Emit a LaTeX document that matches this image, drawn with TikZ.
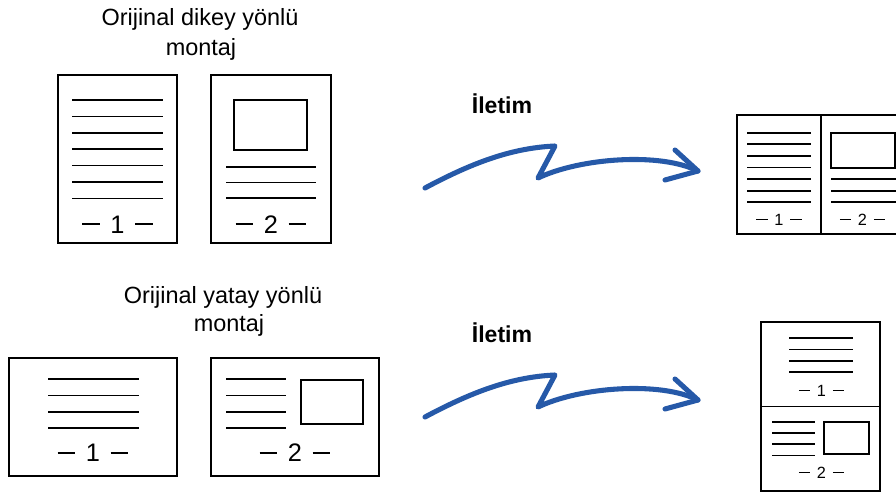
\documentclass[tikz,border=0pt]{standalone}
\usepackage{fontspec}
\setmainfont{Liberation Sans}
\usepackage{tikz}
\usetikzlibrary{arrows.meta, positioning}
\definecolor{sendblue}{RGB}{38, 89, 168}
\newcommand{\pgdash}{\rule[0.31em]{0.7em}{0.075em}}
\newcommand{\pagenum}[1]{\pgdash\hspace{0.42em}#1\hspace{0.42em}\pgdash}

\begin{document}
\begin{tikzpicture}[x=0.75pt, y=-0.75pt,
  sheet/.style={draw, line width=1.5pt},
  textline/.style={line width=1.3pt},
  divider/.style={line width=0.8pt},
  caption/.style={font=\fontsize{17.6}{21}\selectfont, anchor=base, inner sep=0pt},
  bignum/.style={font=\fontsize{19}{22}\selectfont, anchor=base, inner sep=0pt},
  smallnum/.style={font=\fontsize{12.2}{14}\selectfont, anchor=base, inner sep=0pt},
  sendlabel/.style={font=\bfseries\fontsize{17.3}{21}\selectfont, anchor=base, inner sep=0pt},
  sendarrow/.style={sendblue, line width=3.8pt, line cap=round, line join=round}]

  \clip (0,0) rectangle (896,493);

  % --- portrait originals ---
  \node[caption] (ptitle) at (200,25) {Orijinal dikey yönlü};
  \node[caption] (ptitleb) at (201,55) {montaj};

  \draw[sheet] (58,75) rectangle (177,243);
  \foreach \i in {0,...,6}
    \draw[textline] (72,{100+16.4*\i}) -- (163,{100+16.4*\i});
  \node[bignum] (pone) at (117.5,233) {\pagenum{1}};

  \draw[sheet] (211,75) rectangle (331,243);
  \draw[textline] (234,100) rectangle (307,150);
  \foreach \i in {0,1,2}
    \draw[textline] (226,{166.7+15.8*\i}) -- (316,{166.7+15.8*\i});
  \node[bignum] (ptwo) at (271,233) {\pagenum{2}};

  % --- landscape originals ---
  \node[caption] (ltitle) at (223,303.3) {Orijinal yatay yönlü};
  \node[caption] (ltitleb) at (229,331.7) {montaj};

  \draw[sheet] (9,358.3) rectangle (177,476);
  \foreach \i in {0,...,3}
    \draw[textline] (48,{379.3+16.2*\i}) -- (139,{379.3+16.2*\i});
  \node[bignum] (lone) at (93,461.7) {\pagenum{1}};

  \draw[sheet] (211,358.3) rectangle (379,476);
  \foreach \i in {0,...,3}
    \draw[textline] (226,{379.3+16.2*\i}) -- (286,{379.3+16.2*\i});
  \draw[textline] (301,380) rectangle (363,424.3);
  \node[bignum] (ltwo) at (295,461.7) {\pagenum{2}};

  % --- transfer arrows ---
  \foreach \row/\dy in {top/0, bottom/229} {
    \begin{scope}[shift={(0,\dy)}]
      \node[sendlabel] (\row-label) at (502,113.5) {İletim};
      \coordinate (\row-start) at (425,188);
      \coordinate (\row-peak) at (555,146);
      \coordinate (\row-dip) at (538,178);
      \coordinate (\row-tip) at (698,171);
      \draw[sendarrow] (\row-start) .. controls (470,164) and (510,148) .. (\row-peak)
        -- (\row-dip) .. controls (580,158) and (660,152) .. (\row-tip);
      \draw[sendarrow] (675,150) -- (\row-tip) -- (665,180);
    \end{scope}
  }

  % --- received: side by side ---
  \draw[sheet] (737,115) rectangle (904,234);
  \draw[divider] (821,115) -- (821,234);
  \foreach \i in {0,...,6}
    \draw[textline] (747,{132.7+11.6*\i}) -- (811,{132.7+11.6*\i});
  \draw[textline] (831,132.7) rectangle (895,168.3);
  \foreach \i in {0,1,2}
    \draw[textline] (831,{179.3+11.5*\i}) -- (900,{179.3+11.5*\i});
  \node[smallnum] (rone) at (779,225) {\pagenum{1}};
  \node[smallnum] (rtwo) at (862.5,225) {\pagenum{2}};

  % --- received: stacked ---
  \draw[sheet] (761,322.3) rectangle (880,491);
  \draw[divider] (761,406.7) -- (880,406.7);
  \foreach \i in {0,...,3}
    \draw[textline] (789,{338.3+11.2*\i}) -- (853,{338.3+11.2*\i});
  \node[smallnum] (sone) at (821.5,396) {\pagenum{1}};
  \foreach \i in {0,...,3}
    \draw[textline] (772,{421.7+11.3*\i}) -- (815,{421.7+11.3*\i});
  \draw[textline] (824,422.3) rectangle (869,454.3);
  \node[smallnum] (stwo) at (821.5,478.3) {\pagenum{2}};

\end{tikzpicture}
\end{document}
